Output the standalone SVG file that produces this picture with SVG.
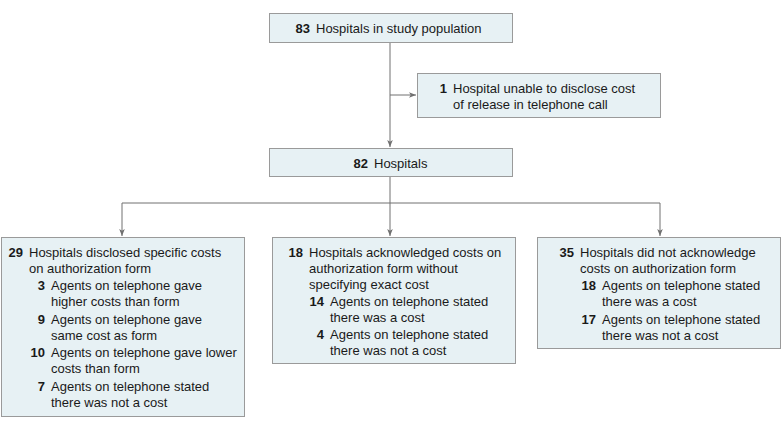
<svg xmlns="http://www.w3.org/2000/svg" width="783" height="430" viewBox="0 0 783 430">
<defs>
<marker id="arr" viewBox="0 0 10 10" refX="10" refY="5" markerWidth="7" markerHeight="7" markerUnits="userSpaceOnUse" orient="auto">
<path d="M0,1 L10,5 L0,9 L2.5,5 Z" fill="#707070"/>
</marker>
<style>
.box{fill:#e7f1f4;stroke:#9a9a9a;stroke-width:1}
text{font-family:"Liberation Sans",Arial,sans-serif;font-size:13px;fill:#1a1a1a}
.n{font-weight:bold;text-anchor:end}
.c{fill:none;stroke:#707070;stroke-width:1}
</style>
</defs>
<rect width="783" height="430" fill="#ffffff"/>
<g id="connectors">
<path class="c" d="M390,42 V147" marker-end="url(#arr)"/>
<path class="c" d="M390,95 H416" marker-end="url(#arr)"/>
<path class="c" d="M390,176 V203"/>
<path class="c" d="M122,203 H660"/>
<path class="c" d="M122,203 V236" marker-end="url(#arr)"/>
<path class="c" d="M390,203 V236" marker-end="url(#arr)"/>
<path class="c" d="M660,203 V236" marker-end="url(#arr)"/>
</g>
<g id="study">
<rect class="box" x="269.5" y="13.5" width="243" height="29"/>
<text class="n" x="310" y="32.5">83</text>
<text x="316" y="32.5">Hospitals in study population</text>
</g>
<g id="excluded">
<rect class="box" x="417.5" y="73.5" width="243" height="44"/>
<text class="n" x="447" y="92.5">1</text>
<text x="453" y="92.5">Hospital unable to disclose cost</text>
<text x="453" y="108.5">of release in telephone call</text>
</g>
<g id="hospitals82">
<rect class="box" x="269.5" y="148.5" width="243" height="28"/>
<text class="n" x="368" y="167.5">82</text>
<text x="374" y="167.5">Hospitals</text>
</g>
<g id="disclosed">
<rect class="box" x="1.5" y="237.5" width="243" height="179"/>
<text class="n" x="23" y="256.5">29</text>
<text x="29" y="256.5">Hospitals disclosed specific costs</text>
<text x="29" y="272.5">on authorization form</text>
<text class="n" x="45" y="290">3</text>
<text x="51" y="290">Agents on telephone gave</text>
<text x="51" y="306">higher costs than form</text>
<text class="n" x="45" y="323.5">9</text>
<text x="51" y="323.5">Agents on telephone gave</text>
<text x="51" y="339.5">same cost as form</text>
<text class="n" x="45" y="357">10</text>
<text x="51" y="357">Agents on telephone gave lower</text>
<text x="51" y="373">costs than form</text>
<text class="n" x="45" y="390.5">7</text>
<text x="51" y="390.5">Agents on telephone stated</text>
<text x="51" y="406.5">there was not a cost</text>
</g>
<g id="acknowledged">
<rect class="box" x="272.5" y="237.5" width="243" height="126"/>
<text class="n" x="303" y="256.5">18</text>
<text x="309" y="256.5">Hospitals acknowledged costs on</text>
<text x="309" y="272.5">authorization form without</text>
<text x="309" y="288.5">specifying exact cost</text>
<text class="n" x="324" y="305.5">14</text>
<text x="330" y="305.5">Agents on telephone stated</text>
<text x="330" y="321.5">there was a cost</text>
<text class="n" x="324" y="338.5">4</text>
<text x="330" y="338.5">Agents on telephone stated</text>
<text x="330" y="354.5">there was not a cost</text>
</g>
<g id="notacknowledged">
<rect class="box" x="537.5" y="237.5" width="243" height="111"/>
<text class="n" x="574" y="256.5">35</text>
<text x="580" y="256.5">Hospitals did not acknowledge</text>
<text x="580" y="272.5">costs on authorization form</text>
<text class="n" x="596" y="290">18</text>
<text x="602" y="290">Agents on telephone stated</text>
<text x="602" y="306">there was a cost</text>
<text class="n" x="596" y="323.5">17</text>
<text x="602" y="323.5">Agents on telephone stated</text>
<text x="602" y="339.5">there was not a cost</text>
</g>
</svg>
